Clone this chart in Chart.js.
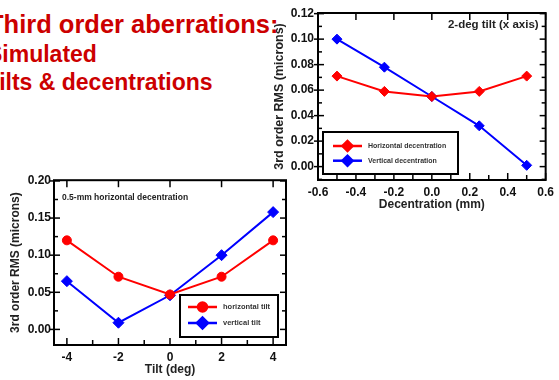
<!DOCTYPE html>
<html>
<head>
<meta charset="utf-8">
<script src="https://cdn.jsdelivr.net/npm/chart.js@4/dist/chart.umd.min.js"></script>
<style>
body { margin: 0; background: #fff; width: 559px; height: 380px; overflow: hidden; position: relative; font-family: 'Liberation Sans', Arial, sans-serif; }
.t { position: absolute; color: #cc0000; font-weight: bold; white-space: nowrap; }
#box1 { position: absolute; left: 265px; top: 0; width: 294px; height: 215px; }
#box2 { position: absolute; left: 0; top: 170px; width: 300px; height: 210px; }
</style>
</head>
<body>
<div class="t" style="left:-12px; top:12px; font-size:25.5px; line-height:25.5px;">Third order aberrations:</div>
<div class="t" style="left:-13px; top:43px; font-size:23px; line-height:23px;">Simulated</div>
<div class="t" style="left:-14.5px; top:70.5px; font-size:23px; line-height:23px;">Tilts &amp; decentrations</div>
<div id="box1"><canvas id="chart1" width="294" height="215"></canvas></div>
<div id="box2"><canvas id="chart2" width="300" height="210"></canvas></div>
<script>
// decentracao (grafico de cima)
const decentX = [-0.5, -0.25, 0, 0.25, 0.5];
const horizDecent = [0.071, 0.059, 0.055, 0.059, 0.071];
const vertDecent = [0.100, 0.078, 0.055, 0.032, 0.001];
const decentTicks = [-0.6, -0.4, -0.2, 0, 0.2, 0.4, 0.6];
const decentRmsTicks = [0, 0.02, 0.04, 0.06, 0.08, 0.10, 0.12];

// tilt (grafico de baixo)
const tiltX = [-4, -2, 0, 2, 4];
const horizTilt = [0.120, 0.071, 0.047, 0.071, 0.120];
const vertTilt = [0.065, 0.009, 0.046, 0.100, 0.158];
const tiltTicks = [-4, -2, 0, 2, 4];
const tiltRmsTicks = [0, 0.05, 0.10, 0.15, 0.20];

const FONT = "'Liberation Sans', Arial, sans-serif";

function pts(xs, ys) {
    return xs.map((x, i) => ({x: x, y: ys[i]}));
}

function seg(ctx, x1, y1, x2, y2) {
    ctx.beginPath();
    ctx.moveTo(x1, y1);
    ctx.lineTo(x2, y2);
    ctx.stroke();
}

// major ticks + minor ticks no meio
function marks(scale) {
    let vals = scale.ticks.map(t => t.value);
    let half = (vals[1] - vals[0]) / 2;
    let out = [];
    for (let v = vals[0] - half; v <= scale.max + 1e-9; v += half) {
        if (v < scale.min - 1e-9) continue;
        let major = vals.some(t => Math.abs(t - v) < half / 10);
        out.push({v, major});
    }
    return out;
}

const frame = {
    id: 'frame',
    afterDatasetsDraw(chart, args, opts) {
        const {ctx, chartArea: a, scales} = chart;
        ctx.save();
        ctx.strokeStyle = '#000';
        ctx.lineWidth = 1.5;
        marks(scales.y).forEach(m => {
            let p = scales.y.getPixelForValue(m.v);
            seg(ctx, a.left - (m.major ? 4 : 0), p, a.left + (m.major ? 6 : 4), p);
            seg(ctx, a.right - (m.major ? 6 : 4), p, a.right, p);
        });
        marks(scales.x).forEach(m => {
            let p = scales.x.getPixelForValue(m.v);
            seg(ctx, p, a.bottom, p, a.bottom - (m.major ? 7 : 5));
            if (m.major) seg(ctx, p, a.top, p, a.top + 7);
        });
        ctx.lineWidth = 2;
        ctx.strokeRect(a.left, a.top, a.width, a.height);

        // texto dentro do grafico
        let n = opts.note;
        ctx.fillStyle = '#222';
        ctx.font = 'bold ' + n.size + 'px ' + FONT;
        ctx.textBaseline = 'middle';
        ctx.textAlign = n.align;
        ctx.fillText(n.text, n.align === 'right' ? a.right - n.dx : a.left + n.dx, a.top + n.dy);

        // legenda com caixa
        let lg = opts.legend;
        let x0 = lg.right !== undefined ? a.right - lg.right - lg.w : a.left + lg.left;
        let y0 = a.bottom - lg.bottom - lg.h;
        ctx.fillStyle = '#fff';
        ctx.fillRect(x0, y0, lg.w, lg.h);
        ctx.strokeStyle = '#000';
        ctx.lineWidth = 2;
        ctx.strokeRect(x0, y0, lg.w, lg.h);
        chart.data.datasets.forEach((ds, i) => {
            let cy = y0 + lg.first + i * lg.gap;
            let lx = x0 + lg.pad;
            ctx.strokeStyle = ds.borderColor;
            ctx.lineWidth = 2.5;
            seg(ctx, lx, cy, lx + 29, cy);
            ctx.fillStyle = ds.borderColor;
            Chart.helpers.drawPoint(ctx, {pointStyle: ds.pointStyle, radius: ds.pointRadius, rotation: 0, borderWidth: 1}, lx + 14.5, cy);
            ctx.fillStyle = '#333';
            ctx.font = 'bold ' + lg.size + 'px ' + FONT;
            ctx.textAlign = 'left';
            ctx.textBaseline = 'middle';
            ctx.fillText(ds.label, lx + 35, cy);
        });
        ctx.restore();
    }
};

function dataset(label, data, color, style, radius) {
    return {
        label: label,
        data: data,
        borderColor: color,
        backgroundColor: color,
        pointBackgroundColor: color,
        pointBorderColor: color,
        borderWidth: 2,
        pointStyle: style,
        pointRadius: radius,
        pointBorderWidth: 1,
        tension: 0
    };
}

function axisX(min, max, ticks, fmt, title, w) {
    return {
        type: 'linear', min: min, max: max,
        afterBuildTicks: s => { s.ticks = ticks.map(v => ({value: v})); },
        afterFit: s => { s.height = w; },
        grid: {display: false, drawTicks: false},
        border: {display: false},
        ticks: {padding: 5, color: '#111', font: {family: FONT, size: 12, weight: 'bold'}, maxRotation: 0, autoSkip: false, callback: v => Number(v).toFixed(fmt)},
        title: {display: true, text: title, color: '#222', font: {family: FONT, size: 12, weight: 'bold'}, padding: {top: 6, bottom: 3}}
    };
}

function axisY(min, max, ticks, fmt, title, w, pad, tpad, tsize) {
    return {
        type: 'linear', min: min, max: max,
        afterBuildTicks: s => { s.ticks = ticks.map(v => ({value: v})); },
        afterFit: s => { s.width = w; },
        grid: {display: false, drawTicks: false},
        border: {display: false},
        ticks: {padding: pad, color: '#111', font: {family: FONT, size: 12, weight: 'bold'}, autoSkip: false, callback: v => Number(v).toFixed(fmt)},
        title: {display: true, text: title, color: '#222', font: {family: FONT, size: tsize, weight: 'bold'}, padding: {top: tpad, bottom: 0}}
    };
}

new Chart(document.getElementById('chart1'), {
    type: 'line',
    data: {
        datasets: [
            dataset('Horizontal decentration', pts(decentX, horizDecent), '#ff0000', 'rectRot', 5),
            dataset('Vertical decentration', pts(decentX, vertDecent), '#0000ff', 'rectRot', 5)
        ]
    },
    options: {
        responsive: false,
        animation: false,
        layout: {padding: {top: 13, right: 9, left: 0, bottom: 0}},
        scales: {
            x: axisX(-0.6, 0.6, decentTicks, 1, 'Decentration (mm)', 35),
            y: axisY(-0.0105, 0.1205, decentRmsTicks, 2, '3rd order RMS (microns)', 53, 4, 7, 12.5)
        },
        plugins: {
            legend: {display: false},
            tooltip: {enabled: false},
            frame: {
                note: {text: '2-deg tilt (x axis)', align: 'right', dx: 7, dy: 12, size: 11.5},
                legend: {left: 5, bottom: 6, w: 135, h: 42, pad: 10, first: 14, gap: 14.7, size: 7}
            }
        }
    },
    plugins: [frame]
});

new Chart(document.getElementById('chart2'), {
    type: 'line',
    data: {
        datasets: [
            dataset('horizontal tilt', pts(tiltX, horizTilt), '#ff0000', 'circle', 4.5),
            dataset('vertical tilt', pts(tiltX, vertTilt), '#0000ff', 'rectRot', 5.5)
        ]
    },
    options: {
        responsive: false,
        animation: false,
        layout: {padding: {top: 7, right: 14, left: 0, bottom: 0}},
        scales: {
            x: axisX(-4.5, 4.5, tiltTicks, 0, 'Tilt (deg)', 35),
            y: axisY(-0.021, 0.201, tiltRmsTicks, 2, '3rd order RMS (microns)', 54, 3, 8, 12)
        },
        plugins: {
            legend: {display: false},
            tooltip: {enabled: false},
            frame: {
                note: {text: '0.5-mm horizontal decentration', align: 'left', dx: 8, dy: 17, size: 8.5},
                legend: {right: 8, bottom: 8, w: 98, h: 42, pad: 8, first: 12, gap: 16, size: 7.5}
            }
        }
    },
    plugins: [frame]
});
</script>
</body>
</html>
